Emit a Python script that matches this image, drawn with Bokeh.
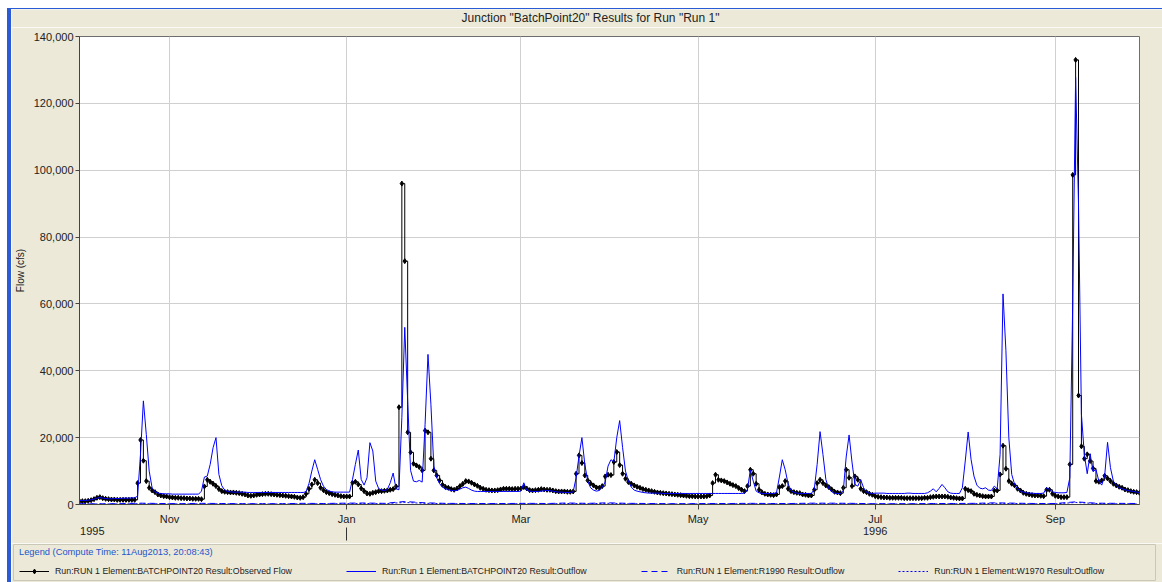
import pandas as pd
from bokeh.plotting import figure
from bokeh.layouts import column
from bokeh.models import (ColumnDataSource, Range1d, FixedTicker, NumeralTickFormatter,
                          LinearAxis, Legend, LegendItem, Label)
from bokeh.embed import file_html
from bokeh.resources import INLINE

# ---------------- data (daily, 1 Oct 1995 - 30 Sep 1996) ----------------
obs_oct = [1000,1000,1000,1100,1300,1600,2000,2200,1900,1700,1600,1500,1500,1400,1400,1400,1400,1400,1400,1400,
           6400,19300,13100,7000,5000,4200,3700,3000,2700,2500,2400]
obs_nov = [2200,2100,2000,2000,1900,1900,1800,1800,1700,1700,1700,1600,5400,7400,6800,6200,5500,4600,4000,3800,
           3700,3600,3600,3500,3400,3200,3000,2700,2600,2700]
obs_dec = [2900,3000,3100,3200,3200,3100,3000,2900,2800,2700,2600,2500,2400,2300,2100,2000,2200,3200,4700,6000,
           7400,6400,5000,4300,3700,3400,3100,2900,2700,2500,2400]
obs_jan = [2400,2400,6500,6800,6000,4800,4000,3300,3200,3500,3700,4000,4000,4100,4200,4400,4600,5400,29100,96000,
           72800,21600,15600,12200,11700,11200,10200,22100,21600,13700,10200]
obs_feb = [8700,7200,5900,5200,5000,4600,4400,4800,5500,6200,7000,6900,6500,6000,5600,5000,4700,4400,4300,4200,
           4200,4300,4500,4700,4700,4700,4600,4700,4700]
obs_mar = [4800,5200,4800,4300,4200,4300,4400,4600,4500,4400,4400,4200,4000,3900,3900,3900,3800,3800,3900,9200,
           14700,12400,8700,7200,6300,5700,5100,5000,5500,8400,8900]
obs_apr = [8800,12700,15700,11800,9200,7700,6700,6200,5700,5300,5000,4600,4400,4200,4000,3800,3600,3500,3400,3300,
           3200,3100,3000,2900,2800,2700,2600,2500,2500,2400]
obs_may = [2400,2400,2400,2500,2700,6400,8900,7400,7200,7000,6600,6200,5800,5500,4900,4400,4000,5500,10400,9200,
           6200,4400,3600,3200,3000,2900,2800,3000,5200,5500,7000]
obs_jun = [4700,4000,3700,3500,3400,3000,2900,2700,2700,4400,6400,7400,6400,5700,5200,4500,3800,3600,3400,5000,
           10400,8000,5500,8400,7400,4700,4000,3700,3200,2900]
obs_jul = [2500,2300,2200,2100,2100,2000,2000,2000,2000,2000,1900,1900,1900,1900,1900,1900,1900,2000,2000,2200,
           2300,2400,2400,2400,2400,2300,2100,2000,1900,1800,1800]
obs_aug = [4700,4300,4000,3200,2900,2700,2500,2400,2400,2400,4200,4200,9000,17600,10700,7000,6200,5700,4700,4200,
           3500,3200,3000,2800,2700,2700,2600,2500,4400,4400,3200]
obs_sep = [2600,2400,2200,2200,2200,12000,98600,133000,32600,17400,13700,15000,13000,10800,7000,6800,7200,8600,7800,7000,
           6200,5700,5300,5000,4500,4300,4000,3800,3700,3500]

sim_oct = [1200,1200,1200,1300,1400,1600,1900,2100,1900,1800,1700,1700,1800,1800,1800,1900,1900,1900,2000,2000,
           2500,15000,31000,21000,10000,5000,3800,3400,3300,3200,3200]
sim_nov = [3200,3100,3100,3100,3100,3100,3100,3100,3100,3100,3100,4000,8200,8500,12000,17000,20000,9000,5600,4300,
           3900,3800,3700,3700,3700,3700,3700,3600,3600,3600]
sim_dec = [3600,3600,3600,3600,3600,3600,3600,3600,3600,3600,3600,3600,3600,3600,3600,3600,3600,3800,6200,10000,
           13400,10500,7500,5500,4500,4000,3800,3700,3700,3700,3700]
sim_jan = [3700,3700,7500,12000,16300,7500,5800,8000,18500,16000,7000,4800,4300,4200,4500,6500,9400,4700,4400,26000,
           53000,31000,10200,7000,6800,7200,6700,24000,44900,30000,11500]
sim_feb = [8000,6200,5200,4700,4400,4200,4100,4200,4600,5000,5200,4800,4300,4000,3900,3900,3900,3900,3900,3900,
           3900,3900,3900,3900,3900,3900,3900,3900,3900]
sim_mar = [4000,6500,4300,4000,3900,3900,3900,4000,4100,4200,4100,4000,3800,3700,3700,3600,3600,3600,3800,8000,
           14500,20000,12000,7000,5000,4300,4000,4200,5200,6700,11500]
sim_apr = [13400,12700,20000,25100,17100,10000,7000,5200,4300,4000,3800,3600,3500,3400,3400,3400,3400,3400,3300,3300,
           3300,3300,3300,3300,3300,3300,3300,3300,3300,3300]
sim_may = [3300,3300,3300,3300,3300,3300,3300,3300,3300,3300,3300,3300,3300,3300,3300,3300,3400,4500,10300,7000,
           4000,3500,3300,3300,3300,3300,3300,3500,8200,13400,10400]
sim_jun = [6200,4200,3600,3400,3300,3300,3300,3300,3300,4500,12000,21800,15000,7500,4800,3800,3400,3300,3300,4000,
           14200,20800,12700,6000,5500,7400,5000,3700,3400,3300]
sim_jul = [3400,3400,3400,3400,3300,3300,3300,3300,3300,3300,3300,3400,3400,3300,3300,3300,3300,3300,3500,4000,
           4700,3800,4800,6000,5000,3800,3400,3300,3300,3300,5000]
sim_aug = [13000,21700,13500,8500,5800,4900,4700,5000,4300,4200,5500,4700,15000,63000,46000,20000,9000,6000,4700,4000,
           3700,3500,3400,3400,3300,3300,3300,3400,5000,4500,3800]
sim_sep = [3600,3500,3500,3500,3600,8000,60000,127800,90000,27000,15000,9200,15200,9800,10500,7000,5800,8500,18600,11000,
           7000,5800,5000,4700,4400,4200,4000,3900,3700,3600]

# weekly values of the two other outflows (close to zero)
r1990 = [200,200,250,400,300,250,350,300,250,250,250,350,300,400,450,350,900,500,350,300,300,300,350,300,450,350,500,
         350,300,250,250,300,300,350,300,300,400,400,350,250,250,250,300,300,350,500,400,300,300,800,400,350,300]
w1970 = [150,150,150,250,200,150,200,200,150,150,150,200,200,250,300,250,600,350,250,200,200,200,250,200,300,250,350,
         250,200,150,150,200,200,250,200,200,250,250,250,150,150,150,200,200,250,350,300,200,200,600,300,250,200]

month_ticks = ["1995-11-01", "1996-01-01", "1996-03-01", "1996-05-01", "1996-07-01", "1996-09-01"]
month_labels = ["Nov", "Jan", "Mar", "May", "Jul", "Sep"]
year_ticks = ["1995-10-05 10:00", "1996-07-01"]
year_labels = ["1995", "1996"]
year_break = "1996-01-01"
y_ticks = [0, 20000, 40000, 60000, 80000, 100000, 120000, 140000]

series_labels = ["Run:RUN 1 Element:BATCHPOINT20 Result:Observed Flow",
                 "Run:Run 1 Element:BATCHPOINT20 Result:Outflow",
                 "Run:RUN 1 Element:R1990 Result:Outflow",
                 "Run:RUN 1 Element:W1970 Result:Outflow"]
title_text = 'Junction "BatchPoint20" Results for Run "Run 1"'
legend_title = "Legend (Compute Time: 11Aug2013, 20:08:43)"

# ---------------- assemble ----------------
observed = obs_oct + obs_nov + obs_dec + obs_jan + obs_feb + obs_mar + obs_apr + obs_may + obs_jun + obs_jul + obs_aug + obs_sep
outflow = sim_oct + sim_nov + sim_dec + sim_jan + sim_feb + sim_mar + sim_apr + sim_may + sim_jun + sim_jul + sim_aug + sim_sep
dates = pd.date_range("1995-10-01", periods=len(observed), freq="D")
wdates = pd.date_range("1995-10-01", periods=len(r1990), freq="7D")

src = ColumnDataSource(dict(date=dates, obs=observed, sim=outflow))
srcw = ColumnDataSource(dict(date=wdates, r1990=r1990, w1970=w1970))


def ms(s):
    return float(pd.Timestamp(s).value // 10**6)


FONT = "Liberation Sans"
BG = "#ECE9D8"
TXT = "#222222"
W = 1151


def no_align(fig):
    if "frame_align" in fig.properties():
        fig.frame_align = False


# ---------------- title strip ----------------
pt = figure(width=W, height=18, x_range=Range1d(0, W), y_range=Range1d(0, 18),
            x_axis_location=None, y_axis_location=None,
            output_backend="svg", toolbar_location=None,
            min_border_left=0, min_border_right=0, min_border_top=0, min_border_bottom=0)
pt.grid.visible = False
pt.border_fill_color = BG
pt.background_fill_color = BG
pt.outline_line_color = None
pt.add_layout(Label(x=579, y=10, text=title_text, text_align="center", text_baseline="middle",
                    text_font=FONT, text_font_size="12px", text_color=TXT))
no_align(pt)

# ---------------- main chart ----------------
p = figure(width=W, height=516, x_axis_type="datetime",
           x_range=Range1d(ms("1995-10-01"), ms("1996-09-30")),
           y_range=Range1d(0, 140000),
           output_backend="svg", toolbar_location=None,
           min_border_left=67, min_border_right=23, min_border_top=9, min_border_bottom=39)
p.border_fill_color = BG
p.background_fill_color = "white"
p.outline_line_color = "#6E6E6E"
no_align(p)


def draw(fig):
    a = fig.step(x="date", y="obs", source=src, mode="after", line_color="black", line_width=1)
    b = fig.scatter(x="date", y="obs", source=src, marker="diamond", size=5, color="black")
    c = fig.line(x="date", y="sim", source=src, line_color="#0000FF", line_width=1)
    d = fig.line(x="date", y="r1990", source=srcw, line_color="#0000FF", line_width=1, line_dash="6 4")
    e = fig.line(x="date", y="w1970", source=srcw, line_color="#0000FF", line_width=1, line_dash="2 2")
    return a, b, c, d, e


draw(p)

xa = p.xaxis[0]
xa.ticker = FixedTicker(ticks=[ms(t) for t in month_ticks])
xa.major_label_overrides = {ms(t): l for t, l in zip(month_ticks, month_labels)}
xa.major_tick_out = 5
xa.major_tick_in = 0
xa.minor_tick_line_color = None
xa.major_label_standoff = 3
xa.axis_line_color = "#444444"
xa.major_tick_line_color = "#444444"
xa.major_label_text_font = FONT
xa.major_label_text_font_size = "11px"
xa.major_label_text_color = TXT

ya = p.yaxis[0]
ya.ticker = FixedTicker(ticks=y_ticks)
ya.formatter = NumeralTickFormatter(format="0,0")
ya.major_tick_out = 4
ya.major_tick_in = 0
ya.minor_tick_line_color = None
ya.major_label_standoff = 2
ya.axis_line_color = "#444444"
ya.major_tick_line_color = "#444444"
ya.major_label_text_font = FONT
ya.major_label_text_font_size = "11px"
ya.major_label_text_color = TXT
ya.axis_label = "Flow (cfs)"
ya.axis_label_text_font = FONT
ya.axis_label_text_font_size = "10px"
ya.axis_label_text_font_style = "normal"
ya.axis_label_text_color = TXT
ya.axis_label_standoff = 5

yr = LinearAxis(ticker=FixedTicker(ticks=[ms(t) for t in year_ticks], minor_ticks=[ms(year_break)]),
                major_label_overrides={ms(t): l for t, l in zip(year_ticks, year_labels)},
                axis_line_color=None, major_tick_line_color=None,
                major_tick_out=0, major_tick_in=0,
                minor_tick_out=13, minor_tick_in=0, minor_tick_line_color="#333333",
                major_label_standoff=-14,
                major_label_text_font=FONT, major_label_text_font_size="11px",
                major_label_text_color=TXT)
p.add_layout(yr, "below")

for g in (p.xgrid[0], p.ygrid[0]):
    g.grid_line_color = "#D0D0D0"
    g.grid_line_width = 1

# ---------------- legend strip (group box) ----------------
pl = figure(width=W, height=39, x_range=Range1d(0, 1), y_range=Range1d(0, 1),
            x_axis_location=None, y_axis_location=None,
            output_backend="svg", toolbar_location=None,
            min_border_left=2, min_border_right=7, min_border_top=1, min_border_bottom=2)
pl.grid.visible = False
pl.border_fill_color = BG
pl.background_fill_color = BG
pl.outline_line_color = "#C9C7B6"
no_align(pl)
l_step, l_pts, l_sim, l_r, l_w = draw(pl)

legend = Legend(items=[LegendItem(label=series_labels[0], renderers=[l_step, l_pts]),
                       LegendItem(label=series_labels[1], renderers=[l_sim]),
                       LegendItem(label=series_labels[2], renderers=[l_r]),
                       LegendItem(label=series_labels[3], renderers=[l_w])],
                orientation="horizontal", location=(6, 3),
                title=legend_title, title_text_color="#2255CC", title_text_font=FONT,
                title_text_font_size="9.3px", title_text_font_style="normal", title_standoff=8,
                label_text_font=FONT, label_text_font_size="8.8px", label_text_color=TXT,
                glyph_width=30, glyph_height=12, label_height=12, label_standoff=6, spacing=54,
                padding=2, margin=0, border_line_color=None, background_fill_alpha=0)
pl.add_layout(legend)

lay = column(pt, p, pl, spacing=0)
lay.styles = {"margin-left": "7px", "margin-top": "8px",
              "border-left": "4px solid #2A5BD7", "border-top": "1px solid #2A5BD7"}

open("out.html", "w").write(file_html(lay, INLINE))
